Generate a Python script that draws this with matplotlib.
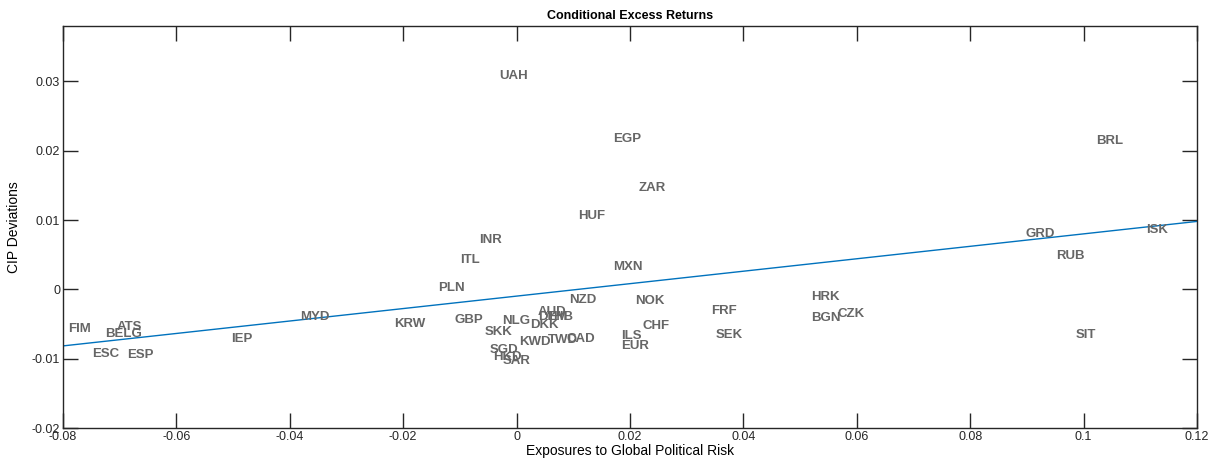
import numpy as np
import matplotlib
matplotlib.use('Agg')
import matplotlib.pyplot as plt

plt.rcParams['font.family'] = ['Liberation Sans', 'DejaVu Sans']

# currency labels with (exposure, CIP deviation)
currencies = ['FIM', 'ATS', 'BELG', 'ESC', 'ESP', 'IEP', 'MYD', 'KRW', 'GBP', 'PLN',
              'NLG', 'SKK', 'SGD', 'HKD', 'SAR', 'KWD', 'DKK', 'TWD', 'CAD', 'AUD',
              'DEM', 'THB', 'NZD', 'NOK', 'CHF', 'ILS', 'EUR', 'MXN', 'HUF', 'ZAR',
              'EGP', 'UAH', 'INR', 'ITL', 'FRF', 'SEK', 'HRK', 'BGN', 'CZK', 'BRL',
              'GRD', 'RUB', 'ISK', 'SIT']
exposures = [-0.0791, -0.0705, -0.0725, -0.0748, -0.0686, -0.0504, -0.0382, -0.0216, -0.0110, -0.0138,
             -0.0026, -0.0057, -0.0048, -0.0042, -0.0025, 0.0005, 0.0024, 0.0056, 0.0088, 0.0037,
             0.0038, 0.0054, 0.0093, 0.0210, 0.0223, 0.0185, 0.0184, 0.0171, 0.0109, 0.0215,
             0.0171, -0.0031, -0.0066, -0.0100, 0.0344, 0.0351, 0.0520, 0.0520, 0.0566, 0.1022,
             0.0897, 0.0951, 0.1110, 0.0986]
cip_dev = [-0.00555, -0.0052, -0.00617, -0.00912, -0.00926, -0.0069, -0.00381, -0.00473, -0.00415, 0.00042,
           -0.0043, -0.00598, -0.00849, -0.00955, -0.0101, -0.00743, -0.00487, -0.00714, -0.00695, -0.0031,
           -0.0037, -0.0038, -0.00126, -0.0015, -0.00512, -0.00646, -0.0080, 0.00341, 0.0108, 0.01487,
           0.02186, 0.0310, 0.0073, 0.00442, -0.00295, -0.00632, -0.00088, -0.00391, -0.00328, 0.02162,
           0.00828, 0.0050, 0.00876, -0.00632]

# fitted line
fit_intercept = -0.00097
fit_slope = 0.0898

fig = plt.figure(figsize=(12.2, 4.66), dpi=100)
ax = fig.add_axes([0.0516, 0.0815, 0.9295, 0.8627])

for name, xv, yv in zip(currencies, exposures, cip_dev):
    ax.text(xv, yv, name, fontsize=9.5, fontweight='bold', color='#666666',
            ha='left', va='center_baseline')

xs = np.array([-0.08, 0.12])
ax.plot(xs, fit_intercept + fit_slope * xs, color='#0072BD', lw=1)

ax.set_xlim(-0.08, 0.12)
ax.set_ylim(-0.02, 0.038)
xt = np.arange(-0.08, 0.121, 0.02)
ax.set_xticks(xt)
ax.set_xticklabels(['-0.08', '-0.06', '-0.04', '-0.02', '0', '0.02', '0.04', '0.06',
                    '0.08', '0.1', '0.12'])
yt = np.arange(-0.02, 0.031, 0.01)
ax.set_yticks(yt)
ax.set_yticklabels(['-0.02', '-0.01', '0', '0.01', '0.02', '0.03'])
ax.tick_params(direction='in', length=11, width=1, top=True, right=True,
               labelsize=9, colors='#262626', pad=2)
for s in ax.spines.values():
    s.set_color('#262626')
    s.set_linewidth(1)

ax.set_title('Conditional Excess Returns', fontsize=9, fontweight='bold', pad=5)
ax.set_xlabel('Exposures to Global Political Risk', fontsize=10, labelpad=1)
ax.set_ylabel('CIP Deviations', fontsize=10, labelpad=8)

fig.savefig('out.png', dpi=100)
